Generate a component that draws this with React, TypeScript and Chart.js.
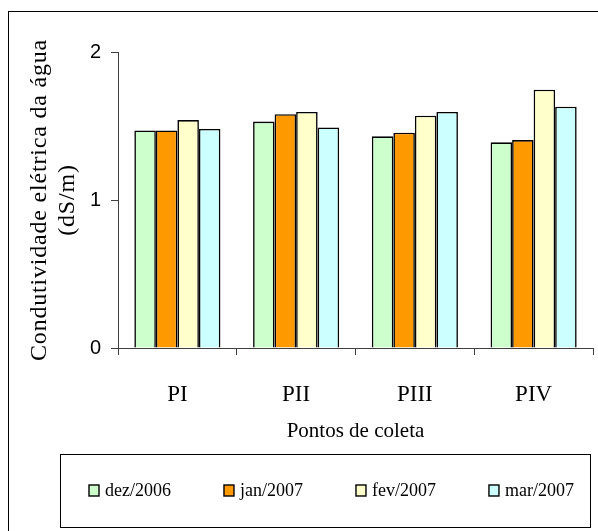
import { useEffect, useRef } from 'react';
import { Chart, registerables } from 'chart.js';

Chart.register(...registerables);

const pontos = ['PI', 'PII', 'PIII', 'PIV'];
const meses = ['dez/2006', 'jan/2007', 'fev/2007', 'mar/2007'];
const dez2006 = [1.47, 1.53, 1.43, 1.39];
const jan2007 = [1.47, 1.58, 1.455, 1.405];
const fev2007 = [1.54, 1.595, 1.57, 1.745];
const mar2007 = [1.48, 1.49, 1.595, 1.63];
const yTicks = [0, 1, 2];
const yTitle = ['Condutividade elétrica da água', '(dS/m)'];
const xTitle = 'Pontos de coleta';

const cores = ['#CCFFCC', '#FF9900', '#FFFFCC', '#CCFFFF'];
const serif = '"Liberation Serif", "Times New Roman", serif';
const sans = '"Liberation Sans", Arial, sans-serif';
const axisColor = '#404040';

// frame, rotated y title and the boxed legend are drawn by hand
const decorPlugin = {
  id: 'decor',
  afterDraw(chart: any) {
    const { ctx, chartArea, width, height } = chart;
    ctx.save();
    ctx.strokeStyle = '#000';
    ctx.lineWidth = 1;
    ctx.strokeRect(8.5, 11.5, width + 10, height + 10);

    // y axis title
    ctx.save();
    ctx.fillStyle = '#000';
    ctx.font = '24px ' + serif;
    (ctx as any).letterSpacing = '0.8px';
    ctx.textAlign = 'center';
    ctx.textBaseline = 'middle';
    ctx.translate(54, (chartArea.top + chartArea.bottom) / 2);
    ctx.rotate(-Math.PI / 2);
    yTitle.forEach((t, i) => ctx.fillText(t, 0, (i - 0.5) * 28));
    ctx.restore();

    // legend box
    const boxTop = height - 77;
    ctx.strokeRect(60.5, boxTop + 0.5, 530, 73);
    const midY = boxTop + 37;
    ctx.font = '18px ' + serif;
    ctx.textAlign = 'left';
    ctx.textBaseline = 'middle';
    let x = 89;
    chart.data.datasets.forEach((ds: any) => {
      ctx.fillStyle = ds.backgroundColor;
      ctx.fillRect(x, midY - 6, 10, 11);
      ctx.lineWidth = 1.4;
      ctx.strokeStyle = '#000';
      ctx.strokeRect(x, midY - 6, 10, 11);
      ctx.fillStyle = '#000';
      ctx.fillText(ds.label, x + 16, midY);
      x += 16 + ctx.measureText(ds.label).width + 53;
    });
    ctx.restore();
  },
};

const App: React.FC = () => {
  const chartRef = useRef<HTMLCanvasElement | null>(null);
  const chartInstance = useRef<Chart | null>(null);

  useEffect(() => {
    if (!chartRef.current) return;
    if (chartInstance.current) chartInstance.current.destroy();

    const series = [dez2006, jan2007, fev2007, mar2007];

    chartInstance.current = new Chart(chartRef.current, {
      type: 'bar',
      data: {
        labels: pontos,
        datasets: series.map((values, i) => ({
          label: meses[i],
          data: values,
          backgroundColor: cores[i],
          borderColor: '#000',
          borderWidth: 1.6,
          categoryPercentage: 0.725,
          barPercentage: 1,
        })),
      },
      options: {
        animation: false,
        responsive: true,
        maintainAspectRatio: false,
        layout: { padding: { left: 0, right: 5, top: 52, bottom: 83 } },
        plugins: {
          legend: { display: false },
          tooltip: { enabled: false },
        },
        scales: {
          x: {
            offset: true,
            grid: { offset: true, drawOnChartArea: false, tickLength: 7, color: axisColor },
            border: { color: axisColor },
            ticks: { padding: 26, color: '#000', font: { family: serif, size: 23 } },
            title: {
              display: true,
              text: xTitle,
              color: '#000',
              font: { family: serif, size: 21 },
              padding: { top: 0, bottom: 4 },
            },
            afterFit(scale: any) {
              scale.height = 100;
            },
          },
          y: {
            min: 0,
            max: 2,
            afterBuildTicks(scale: any) {
              scale.ticks = yTicks.map((v) => ({ value: v }));
            },
            grid: { drawOnChartArea: false, tickLength: 7, color: axisColor },
            border: { color: axisColor },
            ticks: { padding: 10, color: '#000', font: { family: sans, size: 20 } },
            afterFit(scale: any) {
              scale.width = 118;
            },
          },
        },
      },
      plugins: [decorPlugin],
    });
    return () => {
      chartInstance.current?.destroy();
    };
  }, []);

  return (
    <div style={{ position: 'absolute', left: 0, top: 0, width: 598, height: 531, background: '#fff' }}>
      <canvas ref={chartRef} />
    </div>
  );
};

export default App;
